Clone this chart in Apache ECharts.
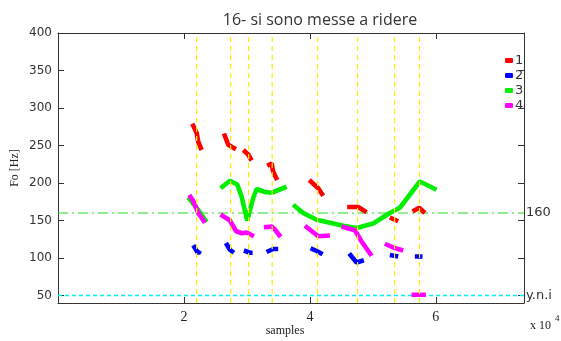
<!DOCTYPE html>
<html><head><meta charset="utf-8">
<script src="https://cdn.jsdelivr.net/npm/echarts@6/dist/echarts.min.js"></script>
<style>html,body{margin:0;padding:0;background:#fff}#c{width:561px;height:341px}</style>
</head><body><div id="c"></div>
<script>
const seriesNames = ['1', '2', '3', '4'];
const seriesColors = ['#ff0000', '#0000ff', '#00ee00', '#ff00ff'];

// each series: list of segments of [sample, Fo]
const red = [
  [[21317,279],[22016,267],[22270,255],[22810,244]],
  [[26349,266],[27032,251],[28254,245]],
  [[29413,244],[30206,238],[30746,230]],
  [[33222,223],[33921,226],[34175,215],[34810,204]],
  [[39889,204],[41317,193],[42111,183]],
  [[45921,168],[47667,168],[49000,161]],
  [[52698,154],[54016,149]],
  [[56302,162],[57349,167],[58254,160]]
];
const blue = [
  [[21476,117],[22270,106],[22540,110]],
  [[26667,120],[27302,111],[27937,107]],
  [[29524,110],[30476,107],[30905,107]],
  [[33127,108],[34175,112],[34968,112]],
  [[40111,113],[41159,109],[42016,105]],
  [[46238,106],[47413,94],[48571,97]],
  [[52698,104],[54016,102]],
  [[56667,102],[57889,102]]
];
const green = [
  [[20683,181],[22270,164],[23603,148]],
  [[25825,193],[27302,203],[28460,198],[29153,182],[30048,150],[31000,180],[31540,192],[32857,188],[33921,187],[36302,195]],
  [[37349,171],[38937,160],[41063,151],[43175,147],[45286,143],[47413,140],[50048,146],[52698,160],[54286,167],[57460,202],[60111,191]]
];
const magenta = [
  [[20841,184],[21476,176],[22270,160],[23333,147]],
  [[25825,158],[27302,150],[28254,136],[29159,133],[29952,134],[31111,129]],
  [[32698,141],[33921,142],[34444,138],[35349,128]],
  [[39206,143],[40270,136],[41317,129],[43175,130]],
  [[45032,142],[47143,137],[48206,122],[49794,103]],
  [[51905,119],[53222,114],[54810,110]],
  [[56143,51],[58413,51]]
];
const syllableMarks = [22016, 27413, 30270, 34016, 41222, 47571, 53444, 57413];
const yTicks = [50, 100, 150, 200, 250, 300, 350, 400];
const xTicks = [20000, 40000, 60000];
const refF0 = 160;
const refLow = 50;

const chart = echarts.init(document.getElementById('c'));
const axCol = '#333';
function xAx(pos, labels) {
  return {
    type: 'value', min: 0, max: 74000, position: pos,
    axisLine: { show: true, onZero: false, lineStyle: { color: axCol, width: 1 } },
    axisTick: { show: true, inside: true, length: 6, customValues: xTicks, lineStyle: { color: axCol } },
    axisLabel: { show: labels, customValues: xTicks, formatter: v => String(v / 10000), fontFamily: 'Liberation Serif', fontSize: 14, color: '#222', margin: 7 },
    splitLine: { show: false }
  };
}
function yAx(pos, labels) {
  return {
    type: 'value', min: 40, max: 400, position: pos,
    axisLine: { show: true, onZero: false, lineStyle: { color: axCol, width: 1 } },
    axisTick: { show: true, inside: true, length: 6, customValues: yTicks, lineStyle: { color: axCol } },
    axisLabel: { show: labels, customValues: yTicks, fontFamily: 'DejaVu Sans', fontSize: 12, color: '#333', margin: 6 },
    splitLine: { show: false }
  };
}
const allData = [red, blue, green, magenta];
const series = [];
// one line series per segment; segments of the same speaker share a name (one legend entry)
allData.forEach((segs, i) => {
  segs.forEach(seg => {
    series.push({
      name: seriesNames[i], type: 'line', data: seg, showSymbol: false, symbol: 'none',
      z: 2 + i, color: seriesColors[i],
      lineStyle: { color: seriesColors[i], width: 4.6 },
      emphasis: { disabled: true }
    });
  });
});
// reference lines as plain line series spanning the x range
series.push({
  name: 'ref160', type: 'line', data: [[0, refF0], [74000, refF0]], showSymbol: false, symbol: 'none', z: 1,
  color: '#22dd22', lineStyle: { color: '#22dd22', width: 1, type: [10, 4, 2, 4] }, emphasis: { disabled: true },
  endLabel: { show: true, formatter: '160', color: '#333', fontSize: 13, fontFamily: 'DejaVu Sans', distance: 2 }
});
series.push({
  name: 'refLow', type: 'line', data: [[0, refLow], [74000, refLow]], showSymbol: false, symbol: 'none', z: 1,
  color: '#00f0f0', lineStyle: { color: '#00f0f0', width: 1.4, type: [4, 3] }, emphasis: { disabled: true },
  endLabel: { show: true, formatter: 'y.n.i', color: '#333', fontSize: 13, fontFamily: 'DejaVu Sans', distance: 2 }
});
syllableMarks.forEach(v => {
  series.push({
    name: 'mark', type: 'line', data: [[v, 40], [v, 400]], showSymbol: false, symbol: 'none', z: 10,
    color: '#ffff00', lineStyle: { color: '#ffee00', width: 1.2, type: [5, 4] }, emphasis: { disabled: true }
  });
});

chart.setOption({
  animation: false,
  backgroundColor: '#fff',
  title: { text: '16- si sono messe a ridere', left: 315, top: 7, textAlign: 'center',
    textStyle: { fontFamily: 'Open Sans', fontSize: 16, fontWeight: 'normal', color: '#333' } },
  grid: { left: 58, right: 37, top: 33, bottom: 38, containLabel: false },
  legend: { data: seriesNames, orient: 'vertical', left: 505, top: 53, itemWidth: 8, itemHeight: 5, icon: 'roundRect',
    itemGap: 0, padding: 0, textStyle: { fontSize: 13, color: '#333', fontFamily: 'DejaVu Sans', lineHeight: 15, padding: [0, 0, 0, -3] } },
  xAxis: [xAx('bottom', true), xAx('top', false)],
  yAxis: [yAx('left', true), yAx('right', false)],
  graphic: [
    { type: 'text', x: 15, y: 168, rotation: Math.PI / 2,
      style: { text: 'Fo [Hz]', font: '12px "Liberation Serif"', fill: '#222', align: 'center', verticalAlign: 'middle' } },
    { type: 'text', x: 285, y: 331,
      style: { text: 'samples', font: '12px "Liberation Serif"', fill: '#222', align: 'center', verticalAlign: 'middle' } },
    { type: 'text', x: 530, y: 326,
      style: { text: 'x 10', font: '12px "Liberation Serif"', fill: '#222', align: 'left', verticalAlign: 'middle' } },
    { type: 'text', x: 555, y: 319,
      style: { text: '4', font: '9px "Liberation Serif"', fill: '#222', align: 'left', verticalAlign: 'middle' } }
  ],
  series: series
});
</script></body></html>
